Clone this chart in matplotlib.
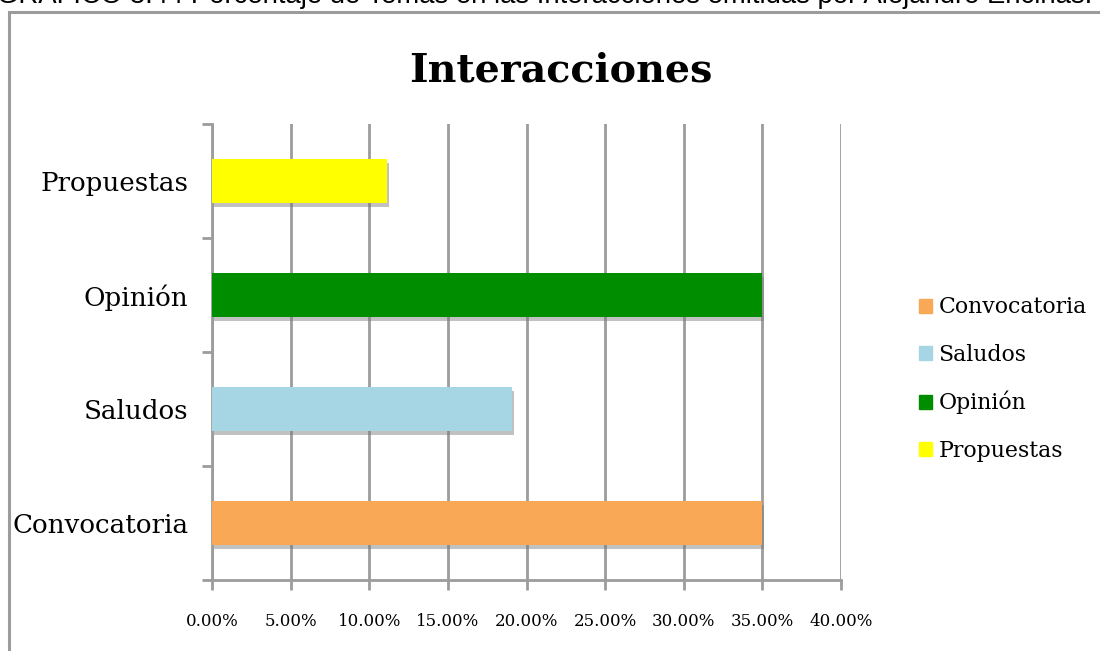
import matplotlib.pyplot as plt
import matplotlib.patheffects as pe
from matplotlib.patches import Rectangle
from matplotlib.ticker import FuncFormatter

# datos
categorias = ['Convocatoria', 'Saludos', 'Opinión', 'Propuestas']
porcentajes = [35.0, 19.1, 35.0, 11.1]
colores = ['#F9A856', '#A6D6E3', '#008E00', '#FFFF00']
xticks = [0, 5, 10, 15, 20, 25, 30, 35, 40]
titulo = 'Interacciones'
leyenda_titulo = 'GRÁFICO 3.44 Porcentaje de Temas en las Interacciones emitidas por Alejandro Encinas.'

SERIF = ['DejaVu Serif']
GRIS = '#9C9C9C'

fig = plt.figure(figsize=(11, 6.51), dpi=100)

# marco gris del grafico (cortado a la derecha y abajo)
fig.patches.append(Rectangle((9 / 1100, -0.2), 2, 1 - 12 / 651 + 0.2,
                             transform=fig.transFigure, fill=False,
                             edgecolor=GRIS, linewidth=2.2))

# pie de grafico cortado arriba
fig.text(-0.003, 1 - 3 / 651, leyenda_titulo, ha='left', va='baseline',
         fontsize=19.8, family=['Liberation Sans', 'DejaVu Sans'], color='black')

ax = fig.add_axes([212 / 1100, 71 / 651, 629 / 1100, 456 / 651])

ypos = list(range(len(categorias)))
bars = ax.barh(ypos, porcentajes, height=0.39, color=colores, zorder=3)
for b in bars:
    b.set_path_effects([pe.SimplePatchShadow(offset=(1.5, -3), shadow_rgbFace='#777777', alpha=0.45),
                        pe.Normal()])

ax.set_xlim(0, 40)
ax.set_ylim(-0.5, len(categorias) - 0.5)
ax.set_xticks(xticks)
ax.xaxis.set_major_formatter(FuncFormatter(lambda v, p: '%.2f%%' % v))
ax.set_yticks(ypos)
ax.set_yticklabels(categorias)
ax.set_yticks([y + 0.5 for y in [-1] + ypos], minor=True)

ax.grid(axis='x', color=GRIS, linewidth=2, zorder=0)
ax.tick_params(axis='x', length=7, width=2, color=GRIS, labelsize=12, pad=17)
ax.tick_params(axis='y', which='major', length=0, labelsize=18.8, pad=17)
ax.tick_params(axis='y', which='minor', length=7, width=2, color=GRIS)
for lab in ax.get_xticklabels() + ax.get_yticklabels():
    lab.set_family(SERIF)

for s in ['top', 'right']:
    ax.spines[s].set_visible(False)
for s in ['left', 'bottom']:
    ax.spines[s].set_color(GRIS)
    ax.spines[s].set_linewidth(2)

fig.text(561 / 1100, 1 - 70 / 651, titulo, ha='center', va='center',
         fontsize=28.5, fontweight='bold', family=SERIF)

# leyenda
handles = [Rectangle((0, 0), 1, 1, color=c) for c in colores]
leg = fig.legend(handles, categorias, loc='center left',
                 bbox_to_anchor=(899 / 1100, 1 - 379 / 651), frameon=False,
                 prop={'family': SERIF, 'size': 15.8}, handlelength=0.6,
                 handleheight=0.6, handletextpad=0.3, labelspacing=1.15)

fig.savefig('out.png', dpi=100)
